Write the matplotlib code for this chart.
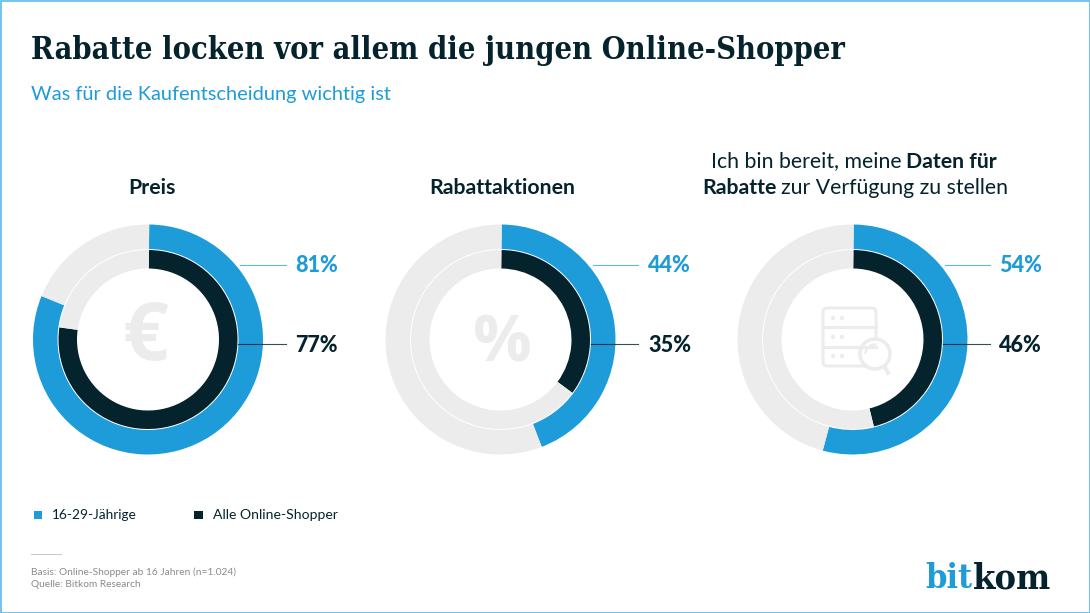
import matplotlib
matplotlib.use("Agg")
import matplotlib.pyplot as plt
from matplotlib.patches import Rectangle, FancyBboxPatch, Circle, Arc

# ----------------------------
# Data
# ----------------------------
panel_titles = ["Preis", "Rabattaktionen"]
young_values = [81, 44, 54]
all_values = [77, 35, 46]
legend_labels = ["16-29-Jährige", "Alle Online-Shopper"]

BLUE = "#1e9bd9"
DARK = "#04232c"
GREY = "#ececec"
SANS = "Lato"
SERIF = "DejaVu Serif"

W, H = 1090, 613
centers = [148, 500.5, 852.5]
CY = 339.5
R_OUT, R_MID, R_IN = 115, 90, 71
START = 89.4

fig = plt.figure(figsize=(W / 100, H / 100), dpi=100, facecolor="white")

# full figure axes in pixel coordinates for text and decoration, on top of the donuts
bg = fig.add_axes([0, 0, 1, 1])
bg.set_xlim(0, W)
bg.set_ylim(H, 0)
bg.axis("off")
bg.set_zorder(5)
bg.add_patch(Rectangle((0.5, 0.5), W - 1, H - 1, fill=False, ec="#5cb8ea", lw=1.2))

bg.text(31, 50.5, "Rabatte locken vor allem die jungen Online-Shopper", family=SERIF, stretch="condensed",
        weight="bold", fontsize=22.05, color=DARK, va="center")
bg.text(31, 94.5, "Was für die Kaufentscheidung wichtig ist", family=SANS, fontsize=14.4, color=BLUE, va="center")


def draw_donut(cx, young, everyone):
    size = R_OUT * 2
    ax = fig.add_axes([(cx - R_OUT) / W, 1 - (CY + R_OUT) / H, size / W, size / H])
    ax.pie([young, 100 - young], colors=[BLUE, GREY], startangle=START, counterclock=False, radius=1,
           wedgeprops={"width": (R_OUT - R_MID - 0.5) / R_OUT, "linewidth": 0})
    ax.pie([everyone, 100 - everyone], colors=[DARK, GREY], startangle=START, counterclock=False,
           radius=(R_MID - 0.5) / R_OUT, wedgeprops={"width": (R_MID - R_IN - 0.5) / R_OUT, "linewidth": 0})
    ax.set_xlim(-1, 1)
    ax.set_ylim(-1, 1)


line_end = [286, 638, 990]
label_x = [295, 648, 999]
for i, cx in enumerate(centers):
    draw_donut(cx, young_values[i], all_values[i])
    # leader lines and value labels
    bg.plot([cx + 92, line_end[i]], [265, 265], color=BLUE, lw=0.8, alpha=0.7)
    bg.plot([cx + 90, line_end[i]], [344, 344], color=DARK, lw=0.8, alpha=0.8)
    bg.text(label_x[i], 265.5, f"{young_values[i]}%", family=SANS, weight="black", fontsize=15.6, color=BLUE, va="center")
    bg.text(label_x[i], 345, f"{all_values[i]}%", family=SANS, weight="black", fontsize=15.6, color=DARK, va="center")


def mixed_line(x, y, parts):
    # one line with regular and bold runs, centred on x
    renderer = fig.canvas.get_renderer()
    items = []
    total = 0
    for s, w in parts:
        t = bg.text(0, y, s, family=SANS, weight=w, fontsize=15.3, color=DARK, va="center")
        width = t.get_window_extent(renderer).width
        items.append((t, width))
        total += width
    total += 4.5 * (len(parts) - 1)
    left = x - total / 2
    for t, width in items:
        t.set_x(left)
        left += width + 4.5


# panel headings
bg.text(151.5, 188.5, panel_titles[0], family=SANS, weight="bold", fontsize=15.3, color=DARK, ha="center", va="center")
bg.text(502.5, 188.5, panel_titles[1], family=SANS, weight="bold", fontsize=15.3, color=DARK, ha="center", va="center")
mixed_line(854, 161.5, [("Ich bin bereit, meine", "normal"), ("Daten für", "bold")])
mixed_line(855.5, 187.5, [("Rabatte", "bold"), ("zur Verfügung zu stellen", "normal")])

# centre icons
ICON = "#ececec"
bg.text(145.5, 339, "€", family="Open Sans", weight="bold", fontsize=58, color=ICON, ha="center", va="center")
bg.text(502, 345, "%", family="Open Sans", weight="bold", fontsize=47, color=ICON, ha="center", va="center")

bg.add_patch(FancyBboxPatch((823, 308), 53, 58, boxstyle="round,pad=0,rounding_size=4", fill=False, ec=ICON, lw=2.2))
for y in [327, 347]:
    bg.plot([823, 876], [y, y], color=ICON, lw=2.2)
for y in [318, 337, 356]:
    for x in [833, 842]:
        bg.add_patch(Circle((x, y), 2.2, color=ICON, lw=0))
bg.add_patch(Circle((875, 354), 15, fc="white", ec=ICON, lw=2.6))
bg.add_patch(Arc((875, 354), 19, 19, theta1=180, theta2=280, ec=ICON, lw=1.6))
bg.plot([885, 888], [367, 373], color=ICON, lw=2.8)

# legend
bg.add_patch(Rectangle((33.5, 510.5), 8.5, 8.5, fc=BLUE, ec="none"))
bg.text(52, 515, legend_labels[0], family=SANS, fontsize=9.8, color=DARK, va="center")
bg.add_patch(Rectangle((194, 510.5), 8.5, 8.5, fc=DARK, ec="none"))
bg.text(213, 515, legend_labels[1], family=SANS, fontsize=10.1, color=DARK, va="center")

# footnote
bg.plot([31, 61], [553.5, 553.5], color="#cccccc", lw=0.8)
bg.text(31, 572, "Basis: Online-Shopper ab 16 Jahren (n=1.024)", family=SANS, fontsize=7.3, color="#8a8a8a", va="center")
bg.text(31, 584.5, "Quelle: Bitkom Research", family=SANS, fontsize=7.3, color="#8a8a8a", va="center")

# logo
bg.text(925, 578.5, "bit", family=SERIF, stretch="condensed", weight="bold", fontsize=24.5, color=BLUE, va="center")
bg.text(972.5, 578.5, "kom", family=SERIF, stretch="condensed", weight="bold", fontsize=25.8, color=DARK, va="center")

fig.savefig("out.png", dpi=100)
